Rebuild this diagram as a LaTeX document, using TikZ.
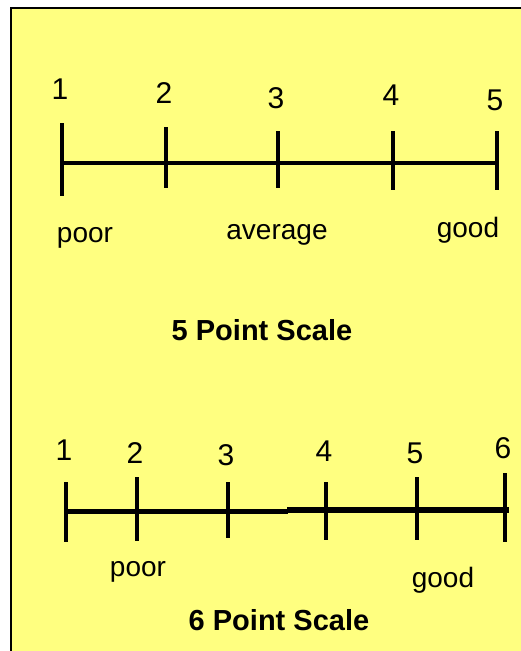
\documentclass[tikz,border=0pt]{standalone}
\usepackage{fontspec}
\setmainfont{Liberation Sans}
\definecolor{paper}{RGB}{255,255,128}
\tikzset{
  tickline/.style={line width=3.5pt},
  scaleline/.style={line width=4.5pt},
  num/.style={font=\fontsize{30}{32}\selectfont, inner sep=0pt},
  word/.style={font=\fontsize{28}{32}\selectfont, inner sep=0pt},
  title/.style={font=\fontsize{29}{32}\selectfont\bfseries, inner sep=0pt}
}
\begin{document}
\begin{tikzpicture}[x=1pt,y=-1pt]
	\useasboundingbox (0,0) rectangle (521,651);
	\fill[paper] (11,8) rectangle (521,651);
	\coordinate (fb) at (11,651);
	\coordinate (fc) at (11,8);
	\coordinate (fr) at (521,8);
	\draw[line width=2pt] (fb) -- (fc) -- (fr);

	\foreach \n/\x/\t/\b/\ly in {1/62/123/196/89, 2/166/127/188/93, 3/278/131/188/98, 4/393/131/190/95, 5/497/131/190/100}{
		\coordinate (p\n) at (\x,163);
		\coordinate (p\n t) at (\x,\t);
		\coordinate (p\n b) at (\x,\b);
		\draw[tickline] (p\n t) -- (p\n b);
		\node[num] (pl\n) at (\x-2,\ly) {\n};
	}
	\draw[scaleline] (p1) -- (p5);
	\node[word] (poor1) at (85,238) {poor};
	\node[word] (avg1) at (277,235) {average};
	\node[word] (good1) at (468,230) {good};
	\node[title] (t5) at (262,330) {5 Point Scale};

	\foreach \n/\x/\t/\b/\ly in {1/66/482/542/450, 2/137/477/541/453, 3/228/482/538/455, 4/326/482/540/451, 5/417/477/540/453, 6/505/473/542/448}{
		\coordinate (q\n) at (\x,510);
		\coordinate (q\n t) at (\x,\t);
		\coordinate (q\n b) at (\x,\b);
		\draw[tickline] (q\n t) -- (q\n b);
		\node[num] (ql\n) at (\x-2,\ly) {\n};
	}
	\coordinate (qa) at (66,511);
	\coordinate (qm) at (288,511);
	\coordinate (qn) at (287,509.5);
	\coordinate (qe) at (509,509.5);
	\draw[line width=5pt] (qa) -- (qm);
	\draw[line width=6pt] (qn) -- (qe);
	\node[word] (poor2) at (138,572) {poor};
	\node[word] (good2) at (443,580) {good};
	\node[title] (t6) at (279,620) {6 Point Scale};
\end{tikzpicture}
\end{document}
